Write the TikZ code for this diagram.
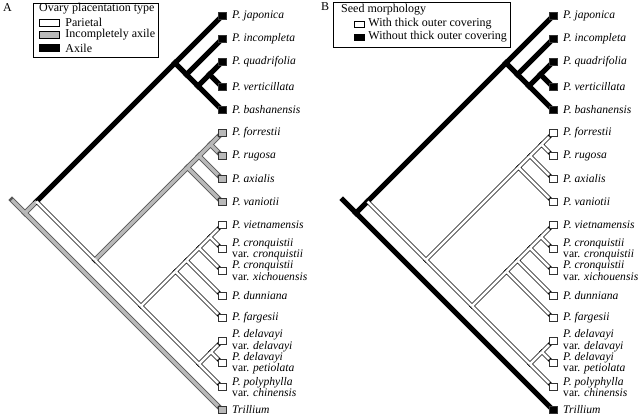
\documentclass[tikz,border=0pt]{standalone}
\usepackage{fontspec}
\setmainfont{Liberation Serif}
\usetikzlibrary{positioning, calc, backgrounds}

\newcommand\clade[3]{\path let \p1=(#2), \p2=(#3) in
  coordinate (#1) at ({\x1-(\y1-\y2)/2}, {(\y1+\y2)/2});}

\def\taxa{jap/16/A/{P. japonica}, inc/39/A/{P. incompleta},
  qua/62/A/{P. quadrifolia}, ver/87/A/{P. verticillata},
  bas/110/A/{P. bashanensis}, for/133/G/{P. forrestii},
  rug/156/G/{P. rugosa}, axi/179/G/{P. axialis}, van/202/G/{P. vaniotii},
  vie/225/W/{P. vietnamensis},
  crc/249/W/{P. cronquistii\\\textup{var.} cronquistii},
  crx/271/W/{P. cronquistii\\\textup{var.} xichouensis},
  dun/296/W/{P. dunniana}, far/318/W/{P. fargesii},
  ded/341/W/{P. delavayi\\\textup{var.} delavayi},
  dep/363/W/{P. delavayi\\\textup{var.} petiolata},
  pol/387/W/{P. polyphylla\\\textup{var.} chinensis},
  tri/410/T/{Trillium}}

\def\branchlist{T/stub/root, T/root/tri, T/root/n1,
  A/n1/ax, A/ax/jap, A/ax/ax2, A/ax2/inc, A/ax2/ax3, A/ax3/ax4,
  A/ax3/bas, A/ax4/qua, A/ax4/ver,
  G/n3/gr, G/gr/gr2, G/gr/van, G/gr2/gr3, G/gr2/axi, G/gr3/for, G/gr3/rug,
  W/n1/n3, W/n3/wh, W/wh/vi, W/wh/de, W/vi/vi2, W/vi/far, W/vi2/vi3,
  W/vi2/dun, W/vi3/vi4, W/vi3/crx, W/vi4/vie, W/vi4/crc,
  W/de/de2, W/de/pol, W/de2/ded, W/de2/dep}

\newcommand\cladogram[1]{%
  \foreach \n/\y/\c/\t in \taxa {
    \node [tip, \c\space tip] (\n) at (#1,\y) {};
    \node [taxon, right=6pt of \n] (\n-l) {\t};
  }
  \clade{root}{jap}{tri}
  \clade{n1}{jap}{pol}
  \clade{ax}{jap}{bas}
  \clade{ax2}{inc}{bas}
  \clade{ax3}{qua}{bas}
  \clade{ax4}{qua}{ver}
  \clade{n3}{for}{pol}
  \clade{gr}{for}{van}
  \clade{gr2}{for}{axi}
  \clade{gr3}{for}{rug}
  \clade{wh}{vie}{pol}
  \clade{vi}{vie}{far}
  \clade{vi2}{vie}{dun}
  \clade{vi3}{vie}{crx}
  \clade{vi4}{vie}{crc}
  \clade{de}{ded}{pol}
  \clade{de2}{ded}{dep}
  \coordinate (stub) at ($(root)+(-13,-13)$);
  \begin{pgfonlayer}{background}
    \foreach \g/\a/\b in \branchlist { \draw [\g\space out] (\a) -- (\b); }
    \foreach \g/\a/\b in \branchlist { \draw [\g\space in] (\a) -- (\b); }
  \end{pgfonlayer}
}

\begin{document}
\begin{tikzpicture}[x=1pt, y=-1pt]
    \tikzstyle{tip} = [rectangle, draw=black!80, line width=0.5pt,
    minimum size=7.5pt, inner sep=0pt]
    \tikzstyle{taxon} = [font=\fontsize{11.6}{8.8}\selectfont\itshape,
    align=left, inner sep=0pt]
    \tikzstyle{legbox} = [rectangle, draw, line width=0.6pt]
    \tikzstyle{legtext} = [font=\fontsize{12}{12}\selectfont, inner sep=0pt,
    anchor=west]
    \tikzstyle{swatch} = [rectangle, draw, line width=0.5pt, inner sep=0pt]
    \tikzstyle{blackout} = [line width=5pt, black, line cap=rect]
    \tikzstyle{blackin} = [draw=none]
    \tikzstyle{grayout} = [line width=5pt, black!65, line cap=rect]
    \tikzstyle{grayin} = [line width=3.4pt, gray!55]
    \tikzstyle{whiteout} = [line width=4pt, black, line cap=rect]
    \tikzstyle{whitein} = [line width=2.6pt, white]
    \useasboundingbox (0,0) rectangle (640,419);

    \begin{scope}[name prefix=a-,
      T out/.style=grayout, T in/.style=grayin,
      A out/.style=blackout, A in/.style=blackin,
      G out/.style=grayout, G in/.style=grayin,
      W out/.style=whiteout, W in/.style=whitein,
      A tip/.style={fill=black}, G tip/.style={fill=gray!55},
      W tip/.style={fill=white}, T tip/.style={fill=gray!55}]
      \cladogram{222}
    \end{scope}

    \begin{scope}[name prefix=b-,
      T out/.style=blackout, T in/.style=blackin,
      A out/.style=blackout, A in/.style=blackin,
      G out/.style=whiteout, G in/.style=whitein,
      W out/.style=whiteout, W in/.style=whitein,
      A tip/.style={fill=black}, G tip/.style={fill=white},
      W tip/.style={fill=white}, T tip/.style={fill=black}]
      \cladogram{553}
    \end{scope}

    \node [legtext] (panelA) at (3,8) {A};
    \node [legbox, minimum width=125pt, minimum height=54pt] (legA)
    at (95.5,30) {};
    \node [legtext] (legA-title) at (39,8.5) {Ovary placentation type};
    \node [swatch, minimum width=20pt, minimum height=7pt, fill=white]
    (swA1) at (49,22.5) {};
    \node [swatch, minimum width=20pt, minimum height=7pt, fill=gray!55]
    (swA2) at (49,35) {};
    \node [swatch, minimum width=20pt, minimum height=7pt, fill=black]
    (swA3) at (49,48) {};
    \node [legtext, right=6pt of swA1] (txA1) {Parietal};
    \node [legtext, right=6pt of swA2] (txA2) {Incompletely axile};
    \node [legtext, right=6pt of swA3] (txA3) {Axile};

    \node [legtext] (panelB) at (321,7) {B};
    \node [legbox, minimum width=177pt, minimum height=45pt] (legB)
    at (421.5,24.5) {};
    \node [legtext] (legB-title) at (341,10) {Seed morphology};
    \node [swatch, minimum width=10pt, minimum height=6pt, fill=white]
    (swB1) at (359,24) {};
    \node [swatch, minimum width=10pt, minimum height=6pt, fill=black]
    (swB2) at (359,37) {};
    \node [legtext, right=4pt of swB1] (txB1) {With thick outer covering};
    \node [legtext, right=4pt of swB2] (txB2) {Without thick outer covering};
\end{tikzpicture}
\end{document}
